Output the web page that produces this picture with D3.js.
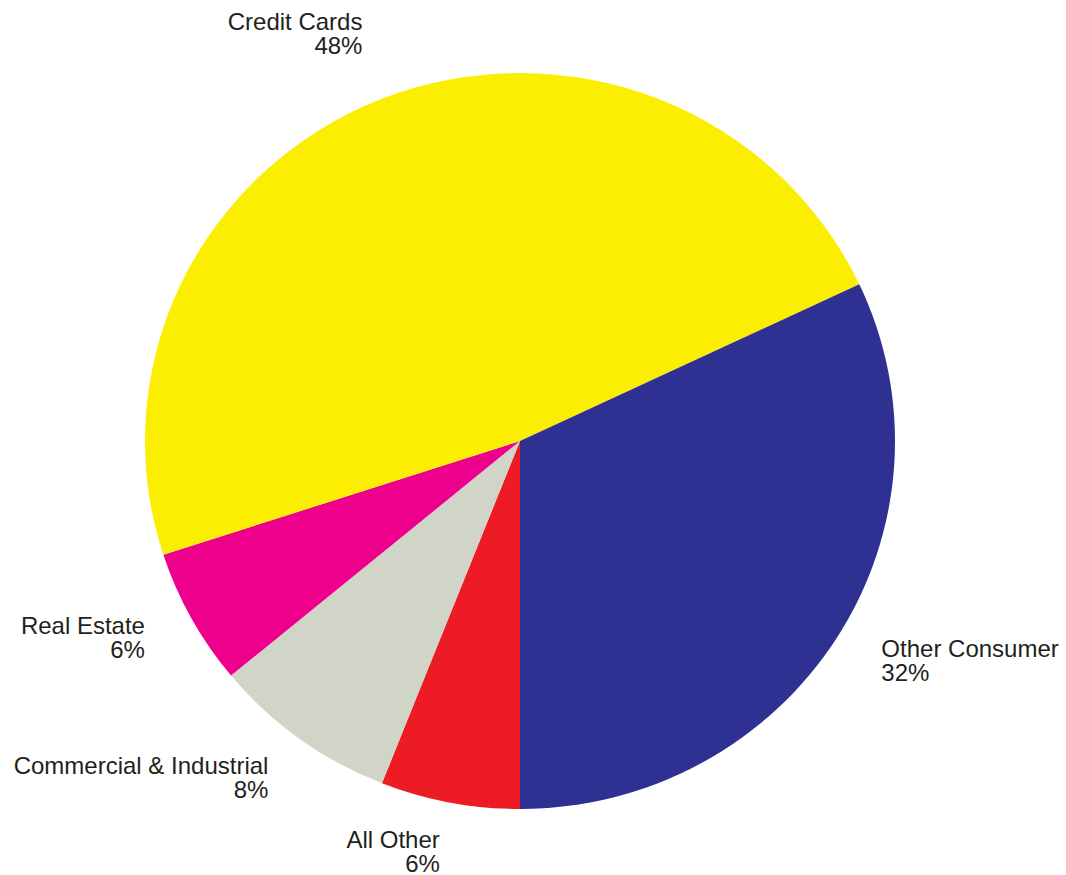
<!DOCTYPE html>
<html>
<head>
<meta charset="utf-8">
<script src="https://cdn.jsdelivr.net/npm/d3@7"></script>
<style>
  html, body { margin: 0; padding: 0; background: #fff; }
  #chart { width: 1066px; height: 875px; }
</style>
</head>
<body>
<div id="chart"></div>
<script>
const categories = ["All Other", "Commercial & Industrial", "Real Estate", "Credit Cards", "Other Consumer"];
const shares = [6, 8, 6, 48, 32];
const colours = ["#ED1C24", "#D1D5C7", "#EC008C", "#FCEE00", "#2E3192"];

const createPie = (graphId) => {
    const width = 1066, height = 875;
    const cx = 520, cy = 441;
    const rx = 375, ry = 368;
    const labelRadius = 428;

    const data = categories.map((name, i) => ({ name, value: shares[i], colour: colours[i] }));

    const svg = d3.select(graphId).append("svg")
        .attr("width", width)
        .attr("height", height)
        .style("background", "white");

    // slices run clockwise from 6 o'clock
    const pie = d3.pie()
        .value(d => d.value)
        .sort(null)
        .startAngle(Math.PI)
        .endAngle(Math.PI * 3);

    const arcs = pie(data);

    const arc = d3.arc()
        .innerRadius(0)
        .outerRadius(rx);

    svg.append("g")
        .attr("transform", `translate(${cx},${cy}) scale(1,${ry / rx})`)
        .selectAll("path")
        .data(arcs)
        .join("path")
        .attr("d", arc)
        .attr("fill", d => d.data.colour);

    const labels = svg.append("g")
        .attr("transform", `translate(${cx},${cy})`)
        .style("font-family", "'Liberation Sans', Arial, Helvetica, sans-serif")
        .style("font-size", "24px")
        .style("fill", "#231F20");

    arcs.forEach(d => {
        const mid = (d.startAngle + d.endAngle) / 2;
        const x = Math.sin(mid) * labelRadius;
        const y = -Math.cos(mid) * labelRadius;
        const anchor = Math.sin(mid) >= 0 ? "start" : "end";

        const text = labels.append("text")
            .attr("x", x)
            .attr("y", y)
            .attr("text-anchor", anchor);

        text.append("tspan")
            .attr("x", x)
            .attr("y", y - 13)
            .text(d.data.name);

        text.append("tspan")
            .attr("x", x)
            .attr("y", y + 11)
            .text(`${d.data.value}%`);
    });

    return svg;
};

createPie("#chart");
</script>
</body>
</html>
